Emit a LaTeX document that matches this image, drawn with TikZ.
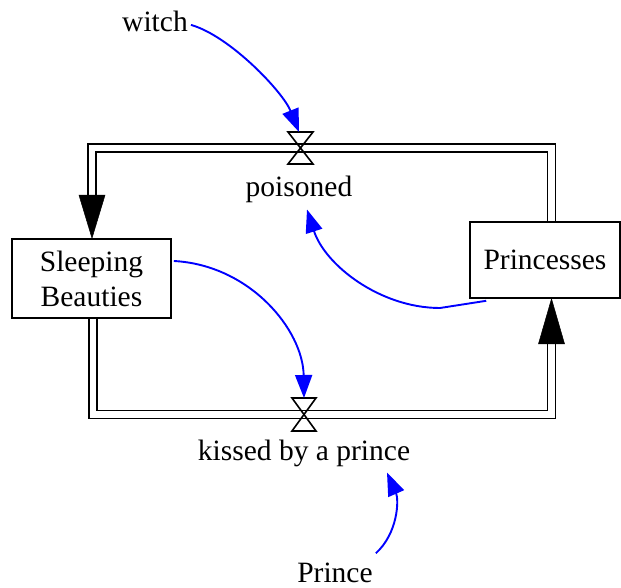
\documentclass[tikz,border=0pt]{standalone}
\usepackage{fontspec}
\setmainfont{Liberation Serif}
\usetikzlibrary{arrows.meta}
\begin{document}
\begin{tikzpicture}[x=1pt,y=-1pt,
  lbl/.style={font=\fontsize{29.5}{35}\selectfont, inner sep=0pt},
  stock/.style={draw, line width=1.6pt, font=\fontsize{29.5}{35}\selectfont, align=center, inner sep=0pt},
  pipe/.style={draw=black, double=white, line width=1.7pt, double distance=6.3pt, line join=miter},
  flowhead/.style={fill=black, draw=black, line width=0.5pt},
  valve/.style={draw=black, line width=1.6pt, line join=miter},
  link/.style={draw=blue, line width=1.9pt, -{Triangle[length=23pt,width=17pt]}}
]
\useasboundingbox (0,0) rectangle (621,588);

% stocks
\node[stock, minimum width=159pt, minimum height=79pt] (sb) at (91.5,278.5) {Sleeping\\Beauties};
\node[stock, minimum width=150pt, minimum height=76pt] (pr) at (545,260) {Princesses};

% valve positions
\coordinate (vtop) at (300.5,148);
\coordinate (vbot) at (304,414.5);
\coordinate (ltip) at ([xshift=0.5pt]sb.north);
\coordinate (lbase) at ([yshift=43pt]ltip);
\coordinate (rtip) at ([xshift=6.5pt]pr.south);
\coordinate (rbase) at ([yshift=-45pt]rtip);

% flow: Princesses -> Sleeping Beauties (poisoned)
\draw[pipe] ([xshift=6.5pt]pr.north) |- (vtop) -| (lbase);
\fill[flowhead] (ltip) -- ([xshift=-13pt]lbase) -- ([xshift=13pt]lbase) -- cycle;
\draw[valve] (vtop) -- ++(-12.5,-16) -- ++(25,0) -- cycle;
\draw[valve] (vtop) -- ++(-12.5,16) -- ++(25,0) -- cycle;

% flow: Sleeping Beauties -> Princesses (kissed by a prince)
\draw[pipe] ([xshift=1.5pt]sb.south) |- (vbot) -| (rbase);
\fill[flowhead] (rtip) -- ([xshift=-13pt]rbase) -- ([xshift=13pt]rbase) -- cycle;
\draw[valve] (vbot) -- ++(-12,-16.5) -- ++(24,0) -- cycle;
\draw[valve] (vbot) -- ++(-12,16.5) -- ++(24,0) -- cycle;

% labels
\node[lbl, anchor=base] (poisoned) at (299,197) {poisoned};
\node[lbl, anchor=base] (kissed) at (304,460) {kissed by a prince};
\node[lbl, anchor=base] (witch) at (155,32) {witch};
\node[lbl, anchor=base] (prince) at (335,582) {Prince};

\coordinate (vtopin) at ([xshift=-1.5pt,yshift=16pt]vtop);
\coordinate (vbotin) at ([yshift=16.5pt]vbot);

% links
\draw[link] ([xshift=3pt,yshift=-3pt]witch.east) .. controls (230,36) and (283,92) .. (vtopin);
\draw[link] ([xshift=2pt,yshift=17.5pt]sb.east) .. controls (250,265) and (303,330) .. (vbotin);
\draw[link] ([xshift=17pt,yshift=-2pt]pr.south west) -- (440,308) .. controls (380,308) and (325,265) .. ([xshift=8pt,yshift=-6pt]poisoned.south);
\draw[link] ([xshift=3pt,yshift=9pt]prince.north east) .. controls (398,533) and (399,500) .. ([xshift=83pt,yshift=-6pt]kissed.south);
\end{tikzpicture}
\end{document}
